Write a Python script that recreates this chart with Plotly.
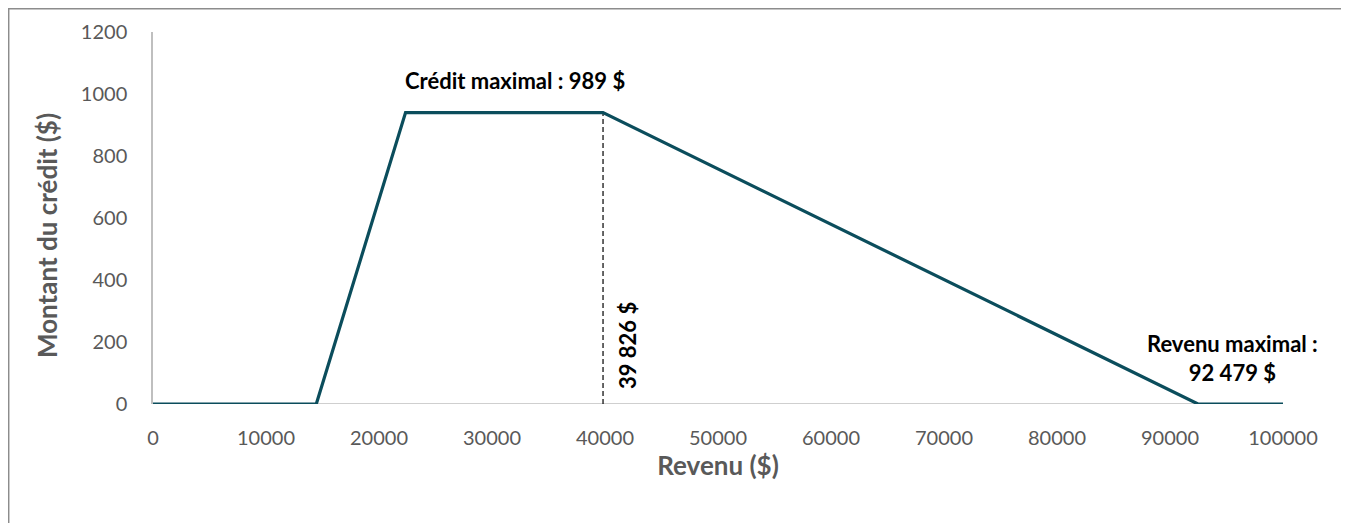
import plotly.graph_objects as go

# Data
revenu = [0, 14450, 22350, 39826, 92479, 100000]
credit = [0, 0, 940, 940, 0, 0]
seuil_x = [39826, 39826]
seuil_y = [0, 940]
x_ticks = [0, 10000, 20000, 30000, 40000, 50000, 60000, 70000, 80000, 90000, 100000]
y_ticks = [0, 200, 400, 600, 800, 1000, 1200]

FONT = "Lato, 'Open Sans', sans-serif"
GRAY = "#595959"

fig = go.Figure()
fig.add_trace(go.Scatter(x=seuil_x, y=seuil_y, mode="lines",
                         line=dict(color="black", width=1.2, dash="5px,3px"),
                         showlegend=False, hoverinfo="skip"))
fig.add_trace(go.Scatter(x=revenu, y=credit, mode="lines",
                         line=dict(color="#0B4D5C", width=3.2),
                         showlegend=False))

fig.update_layout(
    width=1341, height=515,
    margin=dict(l=145, r=66, t=24, b=119),
    paper_bgcolor="white", plot_bgcolor="white",
    font=dict(family=FONT, color=GRAY),
    xaxis=dict(range=[0, 100000], tickvals=x_ticks, ticktext=[str(v) for v in x_ticks],
               showgrid=False, zeroline=False, showline=False, ticks="",
               ticklabelstandoff=20,
               tickfont=dict(size=20, color=GRAY, family=FONT),
               title=dict(text="<b>Revenu ($)</b>", font=dict(size=26, color=GRAY, family=FONT),
                          standoff=8)),
    yaxis=dict(range=[0, 1200], tickvals=y_ticks, ticktext=[str(v) for v in y_ticks],
               showgrid=False, zeroline=False, showline=True, linecolor="#BFBFBF", linewidth=1.5,
               ticks="", ticklen=0, ticklabelstandoff=20,
               tickfont=dict(size=20, color=GRAY, family=FONT)),
    shapes=[
        dict(type="line", xref="paper", yref="y", x0=0, x1=1, y0=0, y1=0,
             line=dict(color="#BFBFBF", width=1.5), layer="below"),
        dict(type="rect", xref="paper", yref="paper", x0=-0.1277, x1=1.0566, y0=-0.33, y1=1.0625,
             line=dict(color="#8C8C8C", width=1.5)),
    ],
    annotations=[
        dict(x=-0.0938, y=0.4516, xref="paper", yref="paper", text="<b>Montant du crédit ($)</b>",
             textangle=-90, showarrow=False, xanchor="center", yanchor="middle",
             font=dict(size=26, color=GRAY, family=FONT)),
        dict(x=32035, y=1045, xref="x", yref="y", text="<b>Crédit maximal : 989 $</b>",
             showarrow=False, font=dict(size=22, color="black", family=FONT)),
        dict(x=41950, y=187, xref="x", yref="y", text="<b>39 826 $</b>", textangle=-90,
             showarrow=False, font=dict(size=22, color="black", family=FONT)),
        dict(x=95487, y=148, xref="x", yref="y", text="<b>Revenu maximal :<br>92 479 $</b>",
             showarrow=False, align="center", font=dict(size=22, color="black", family=FONT)),
    ],
)

fig.write_html("out.html")
